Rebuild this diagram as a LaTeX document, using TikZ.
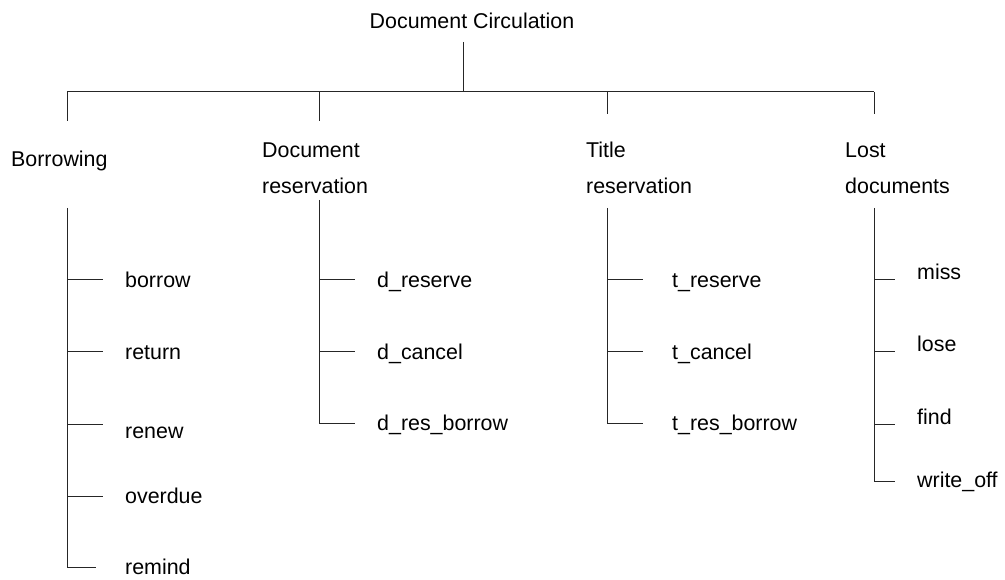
\documentclass[tikz,border=0pt]{standalone}
\usepackage{fontspec}
\setmainfont{Liberation Sans}
\begin{document}
\begin{tikzpicture}[x=1pt,y=-1pt,
  lbl/.style={anchor=base west, inner sep=0pt, font=\fontsize{21.4}{25}\selectfont},
  ttl/.style={anchor=base, inner sep=0pt, font=\fontsize{21.4}{25}\selectfont},
  conn/.style={draw=black!85, line width=1pt}]
\useasboundingbox (0,0) rectangle (1005,580);

% root and bus
\node[ttl] (root) at (472,28.5) {Document Circulation};
\coordinate (rootfoot) at (463,42);
\coordinate (bus) at (463,92);
\coordinate (busW) at (67,92);
\coordinate (busE) at (874,92);
\draw[conn] (rootfoot) -- (bus);
\draw[conn] (busW) -- (busE);

% drops to the four groups
\coordinate (dropB) at (67,121);
\coordinate (dropD) at (319,121);
\coordinate (dropT) at (607,114);
\coordinate (dropL) at (874,114);
\draw[conn] (busW) -- (dropB);
\draw[conn] (319,92) coordinate (busD) -- (dropD);
\draw[conn] (607,92) coordinate (busT) -- (dropT);
\draw[conn] (busE) -- (dropL);

% group labels
\node[lbl] (borrowing) at (11,166.5) {Borrowing};
\node[lbl] (docres1) at (262,157.5) {Document};
\node[lbl] (docres2) at (262,193.5) {reservation};
\node[lbl] (titres1) at (586,157.5) {Title};
\node[lbl] (titres2) at (586,193.5) {reservation};
\node[lbl] (lost1) at (845,157.5) {Lost};
\node[lbl] (lost2) at (845,193.5) {documents};

% stems
\coordinate (stemB) at (67,208);
\coordinate (stemD) at (319,200);
\coordinate (stemT) at (607,208);
\coordinate (stemL) at (874,208);

% Borrowing leaves
\node[lbl] (borrow)  at (125,287.5) {borrow};
\node[lbl] (return)  at (125,359.5) {return};
\node[lbl] (renew)   at (125,438) {renew};
\node[lbl] (overdue) at (125,503) {overdue};
\node[lbl] (remind)  at (125,574) {remind};
\coordinate (b1) at (67,280); \coordinate (b1e) at (103,280);
\coordinate (b2) at (67,352); \coordinate (b2e) at (103,352);
\coordinate (b3) at (67,424); \coordinate (b3e) at (103,424);
\coordinate (b4) at (67,496); \coordinate (b4e) at (103,496);
\coordinate (b5e) at (96,567);
\draw[conn] (stemB) |- (b5e);
\foreach \t in {1,...,4} \draw[conn] (b\t) -- (b\t e);

% Document reservation leaves
\node[lbl] (dreserve) at (377,287.5) {d\_reserve};
\node[lbl] (dcancel)  at (377,359.5) {d\_cancel};
\node[lbl] (dresborrow) at (377,430.5) {d\_res\_borrow};
\coordinate (d1) at (319,280); \coordinate (d1e) at (355,280);
\coordinate (d2) at (319,352); \coordinate (d2e) at (355,352);
\coordinate (d3e) at (355,423);
\draw[conn] (stemD) |- (d3e);
\foreach \t in {1,2} \draw[conn] (d\t) -- (d\t e);

% Title reservation leaves
\node[lbl] (treserve) at (672,287.5) {t\_reserve};
\node[lbl] (tcancel)  at (672,359.5) {t\_cancel};
\node[lbl] (tresborrow) at (672,430.5) {t\_res\_borrow};
\coordinate (t1) at (607,280); \coordinate (t1e) at (643,280);
\coordinate (t2) at (607,352); \coordinate (t2e) at (643,352);
\coordinate (t3e) at (643,423);
\draw[conn] (stemT) |- (t3e);
\foreach \t in {1,2} \draw[conn] (t\t) -- (t\t e);

% Lost documents leaves
\node[lbl] (miss)     at (917,280) {miss};
\node[lbl] (lose)     at (917,352) {lose};
\node[lbl] (find)     at (917,424) {find};
\node[lbl] (writeoff) at (917,487) {write\_off};
\coordinate (l1) at (874,280); \coordinate (l1e) at (895,280);
\coordinate (l2) at (874,352); \coordinate (l2e) at (895,352);
\coordinate (l3) at (874,424); \coordinate (l3e) at (895,424);
\coordinate (l4e) at (895,481);
\draw[conn] (stemL) |- (l4e);
\foreach \t in {1,...,3} \draw[conn] (l\t) -- (l\t e);
\end{tikzpicture}
\end{document}
